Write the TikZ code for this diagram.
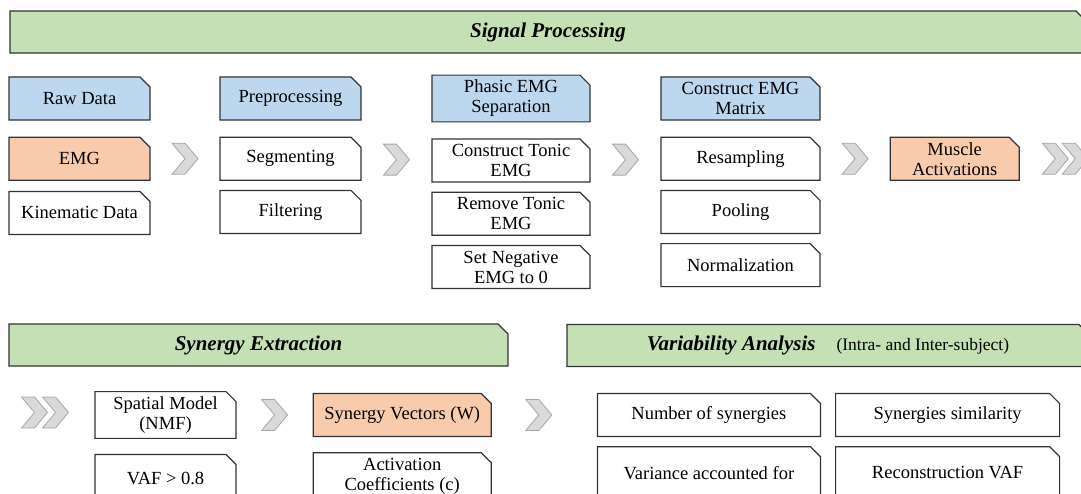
\documentclass[tikz,border=0pt]{standalone}
\usepackage{fontspec}
\setmainfont{Liberation Serif}
\usepackage{tikz}
\usetikzlibrary{positioning,calc,shapes.misc,shapes.symbols}
\definecolor{bannergreen}{HTML}{C5E0B4}
\definecolor{headblue}{HTML}{BDD7EE}
\definecolor{keyorange}{HTML}{F8CBAD}
\definecolor{chevgray}{HTML}{D9D9D9}
\definecolor{chevline}{HTML}{A6A6A6}
\tikzset{
    %Define style for boxes
    box/.style={
           chamfered rectangle,
           chamfered rectangle corners=north east,
           chamfered rectangle xsep=5pt,
           chamfered rectangle ysep=5pt,
           draw=black!80, line width=1.2pt,
           minimum width=141pt,
           minimum height=43pt,
           inner xsep=2pt,
           inner ysep=0pt,
           font=\fontsize{18.5}{20}\selectfont,
           align=center,
           fill=white},
    headbox/.style={box, fill=headblue},
    keybox/.style={box, fill=keyorange},
    %Define style for section banners
    banner/.style={
           box,
           fill=bannergreen,
           minimum height=42pt,
           font=\fontsize{21}{22}\selectfont\bfseries\itshape},
    %Define style for the step chevrons
    chev/.style={
           signal,
           signal from=west,
           signal to=east,
           signal pointer angle=100,
           minimum width=25pt,
           minimum height=31pt,
           inner sep=0pt,
           fill=chevgray,
           draw=chevline, line width=0.8pt}
}
\begin{document}
\begin{tikzpicture}[x=1pt,y=1pt,node distance=16pt]
\useasboundingbox (0,0) rectangle (1081,-493);
% signal processing
\node[banner, minimum width=1076pt](sp) at (548,-32){Signal Processing};
\node[headbox](raw) at (79.5,-98.5){Raw Data};
\node[keybox, below=of raw](emg){EMG};
\node[box, below=10pt of emg](kin){Kinematic Data};
\node[headbox](pre) at (290.5,-98.5){Preprocessing};
\node[box, below=of pre](seg){Segmenting};
\node[box, below=9pt of seg](filt){Filtering};
\node[headbox, minimum width=158pt](phasic) at (511,-98.5){Phasic EMG\\Separation};
\node[box, minimum width=158pt, below=of phasic](tonic){Construct Tonic\\EMG};
\node[box, minimum width=158pt, below=9pt of tonic](remove){Remove Tonic\\EMG};
\node[box, minimum width=158pt, below=9pt of remove](neg){Set Negative\\EMG to 0};
\node[headbox, minimum width=159pt](matrix) at (740.5,-98.5){Construct EMG\\Matrix};
\node[box, minimum width=159pt, below=of matrix](resamp){Resampling};
\node[box, minimum width=159pt, below=9pt of resamp](pool){Pooling};
\node[box, minimum width=159pt, below=9pt of pool](norm){Normalization};
\node[keybox, minimum width=129pt, right=69pt of resamp](musc){Muscle\\Activations};
\node[chev](c1) at ($(emg.east)!0.5!(seg.west)$){};
\node[chev](c2) at ($(seg.east)!0.5!(tonic.west)$){};
\node[chev](c3) at ($(tonic.east)!0.5!(resamp.west)$){};
\node[chev](c4) at ($(resamp.east)!0.5!(musc.west)$){};
\node[chev](c5) at ([xshift=35.5pt]musc.east){};
\node[chev](c6) at ([xshift=55.5pt]musc.east){};
% synergy extraction
\node[banner, minimum width=499pt](se) at (258.5,-345){Synergy Extraction};
\node[chev](c7) at (34.5,-412.5){};
\node[chev](c8) at (55.5,-412.5){};
\node[box](spatial) at (165.5,-415){Spatial Model\\(NMF)};
\node[box, minimum height=48pt, below=15pt of spatial](vaf){VAF > 0.8};
\node[keybox, minimum width=178pt, right=76pt of spatial](synvec){Synergy Vectors (W)};
\node[box, minimum width=178pt, minimum height=48pt, below=15pt of synvec](act){Activation\\Coefficients (c)};
\node[chev](c9) at ($(spatial.east)!0.5!(synvec.west)$){};
\node[chev](c10) at ([xshift=47pt]synvec.east){};
% variability analysis
\node[banner, minimum width=522pt](va) at (828,-345.5){Variability Analysis\quad{\fontsize{17.5}{20}\selectfont\mdseries\upshape (Intra- and Inter-subject)}};
\node[box, minimum width=223pt, right=105pt of synvec](num){Number of synergies};
\node[box, minimum width=224pt, right=14pt of num](simil){Synergies similarity};
\node[box, minimum width=223pt, minimum height=52pt, below=9pt of num](var){Variance accounted for};
\node[box, minimum width=224pt, minimum height=52pt, below=9pt of simil](recon){Reconstruction VAF};
\end{tikzpicture}
\end{document}
